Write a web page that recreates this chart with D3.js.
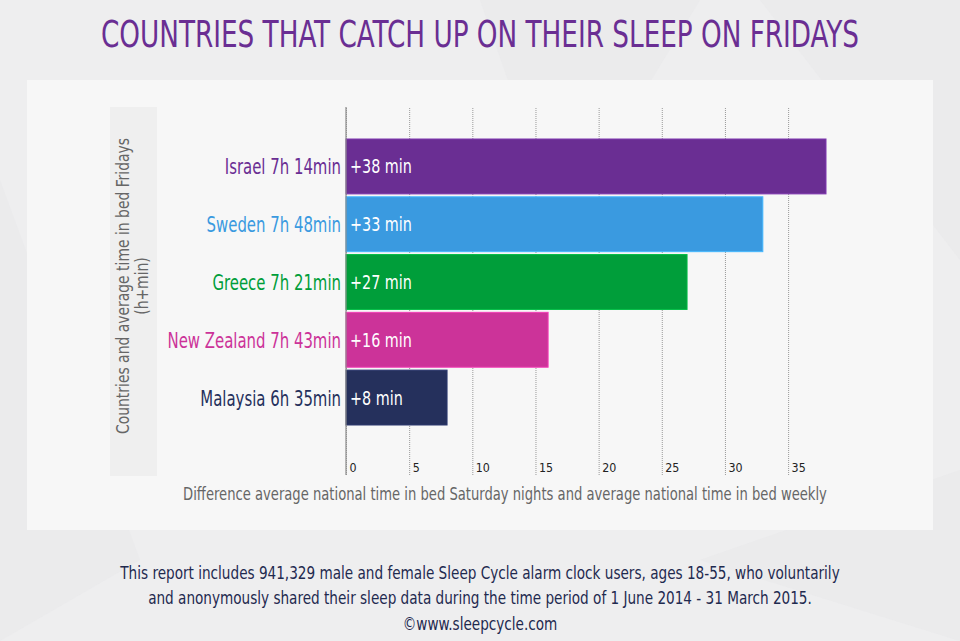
<!DOCTYPE html>
<html>
<head>
<meta charset="utf-8">
<script src="https://cdn.jsdelivr.net/npm/d3@7"></script>
<style>
  body { margin: 0; background: #eeeeef; }
  svg { display: block; }
  .narrow { font-family: "DejaVu Sans Condensed", "Noto Sans", sans-serif; }
</style>
</head>
<body>
<div class="chart"></div>
<script>
// Countries that catch up on their sleep on Fridays

var countries = ["Israel", "Sweden", "Greece", "New Zealand", "Malaysia"];
var fridayBed = ["7h 14min", "7h 48min", "7h 21min", "7h 43min", "6h 35min"];
var extraMinutes = [38, 33, 27, 16, 8];
var barColors = ["#6a2e93", "#3a9ae0", "#009e3a", "#cc3399", "#25305c"];
var tickValues = [0, 5, 10, 15, 20, 25, 30, 35];

var svgWidth = 960;
var svgHeight = 641;

var svg = d3.select(".chart")
  .append("svg")
  .attr("width", svgWidth)
  .attr("height", svgHeight);

// squeeze a text horizontally (fake condensed font) around its anchor x
function squeeze(sel, scaleX) {
  sel.each(function() {
    var t = d3.select(this);
    var x = +t.attr("x") || 0;
    t.attr("transform", `translate(${x},0) scale(${scaleX},1) translate(${-x},0)`);
  });
}

// background + light panel
svg.append("rect")
  .attr("width", svgWidth)
  .attr("height", svgHeight)
  .attr("fill", "#eeeeef");

var shards = [
  [[480, 0], [700, 0], [560, 230]],
  [[0, 180], [140, 560], [0, 641]],
  [[760, 0], [960, 0], [960, 260]],
  [[700, 560], [960, 470], [960, 641]]
];
svg.selectAll("polygon.shard")
  .data(shards)
  .enter()
  .append("polygon")
  .attr("class", "shard")
  .attr("points", d => d.map(p => p.join(",")).join(" "))
  .attr("fill", "#e7e7e9")
  .attr("opacity", 0.5);

svg.append("rect")
  .attr("x", 27)
  .attr("y", 80)
  .attr("width", 906)
  .attr("height", 450)
  .attr("fill", "#f7f7f7");

// strip behind the y axis title
svg.append("rect")
  .attr("x", 110)
  .attr("y", 107)
  .attr("width", 47)
  .attr("height", 369)
  .attr("fill", "#efefef");

var data = countries.map(function(c, i) {
  return { country: c, bed: fridayBed[i], extra: extraMinutes[i], color: barColors[i] };
});

var plotTop = 107;
var plotBottom = 475;

var xLinearScale = d3.scaleLinear()
  .domain([0, 38])
  .range([346, 826]);

var yBandScale = d3.scaleBand()
  .domain(countries)
  .range([139, 425])
  .paddingInner(0.05);

// gridlines + tick labels
var bottomAxis = d3.axisBottom(xLinearScale)
  .tickValues(tickValues)
  .tickSize(-(plotBottom - plotTop))
  .tickFormat(d3.format("d"));

var xAxis = svg.append("g")
  .attr("transform", `translate(0, ${plotBottom})`)
  .call(bottomAxis);

xAxis.select(".domain").remove();
xAxis.selectAll(".tick line")
  .attr("stroke", "#9a9a9a")
  .attr("stroke-dasharray", "1,1");
xAxis.selectAll(".tick text")
  .attr("x", 3)
  .attr("y", -3)
  .attr("dy", 0)
  .attr("text-anchor", "start")
  .attr("fill", "#222")
  .attr("font-family", "\"DejaVu Sans Condensed\", sans-serif")
  .attr("font-size", "13px");
squeeze(xAxis.selectAll(".tick text"), 0.95);

// bars
svg.selectAll("rect.bar")
  .data(data)
  .enter()
  .append("rect")
  .attr("class", "bar")
  .attr("x", xLinearScale(0))
  .attr("y", d => yBandScale(d.country))
  .attr("width", d => xLinearScale(d.extra) - xLinearScale(0))
  .attr("height", yBandScale.bandwidth())
  .attr("fill", d => d.color)
  .attr("stroke", d => d3.color(d.color).brighter(0.5))
  .attr("stroke-width", 1);

// y axis line
svg.append("line")
  .attr("x1", xLinearScale(0))
  .attr("x2", xLinearScale(0))
  .attr("y1", plotTop)
  .attr("y2", plotBottom)
  .attr("stroke", "#8a8a8a")
  .attr("stroke-width", 1.2);

// country labels
var countryLabels = svg.selectAll("text.country")
  .data(data)
  .enter()
  .append("text")
  .attr("class", "country narrow")
  .attr("x", xLinearScale(0) - 5)
  .attr("y", d => yBandScale(d.country) + yBandScale.bandwidth() / 2 + 8)
  .attr("text-anchor", "end")
  .attr("font-size", "21px")
  .attr("fill", d => d.color)
  .text(d => `${d.country} ${d.bed}`);
squeeze(countryLabels, 0.79);

// value labels inside bars
var valueLabels = svg.selectAll("text.value")
  .data(data)
  .enter()
  .append("text")
  .attr("class", "value narrow")
  .attr("x", xLinearScale(0) + 4)
  .attr("y", d => yBandScale(d.country) + yBandScale.bandwidth() / 2 + 7)
  .attr("font-size", "19px")
  .attr("fill", "#ffffff")
  .text(d => `+${d.extra} min`);
squeeze(valueLabels, 0.84);

// axis titles
var xTitle = svg.append("text")
  .attr("class", "narrow")
  .attr("x", 505)
  .attr("y", 500)
  .attr("text-anchor", "middle")
  .attr("font-size", "17px")
  .attr("fill", "#666")
  .text("Difference average national time in bed Saturday nights and average national time in bed weekly");
squeeze(xTitle, 0.86);

var yTitle = svg.append("g")
  .attr("transform", "translate(0, 286) rotate(-90)");

var yTitleLines = yTitle.selectAll("text")
  .data(["Countries and average time in bed Fridays", "(h+min)"])
  .enter()
  .append("text")
  .attr("class", "narrow")
  .attr("x", 0)
  .attr("y", (d, i) => 129 + i * 19)
  .attr("text-anchor", "middle")
  .attr("font-size", "17px")
  .attr("fill", "#666")
  .text(d => d);
squeeze(yTitleLines, 0.91);

// chart title
var title = svg.append("text")
  .attr("class", "narrow")
  .attr("x", 480)
  .attr("y", 47)
  .attr("text-anchor", "middle")
  .attr("font-size", "37px")
  .attr("fill", "#6a2e93")
  .text("COUNTRIES THAT CATCH UP ON THEIR SLEEP ON FRIDAYS");
squeeze(title, 0.79);

// footer note
var footerLines = [
  "This report includes 941,329 male and female Sleep Cycle alarm clock users, ages 18-55, who voluntarily",
  "and anonymously shared their sleep data during the time period of 1 June 2014 - 31 March 2015.",
  "\u00a9www.sleepcycle.com"
];

var footer = svg.selectAll("text.footer")
  .data(footerLines)
  .enter()
  .append("text")
  .attr("class", "footer narrow")
  .attr("x", 480)
  .attr("y", (d, i) => 579 + i * 25.5)
  .attr("text-anchor", "middle")
  .attr("font-size", "17px")
  .attr("fill", "#1f2a4f")
  .text(d => d);
squeeze(footer, 0.89);
</script>
</body>
</html>
